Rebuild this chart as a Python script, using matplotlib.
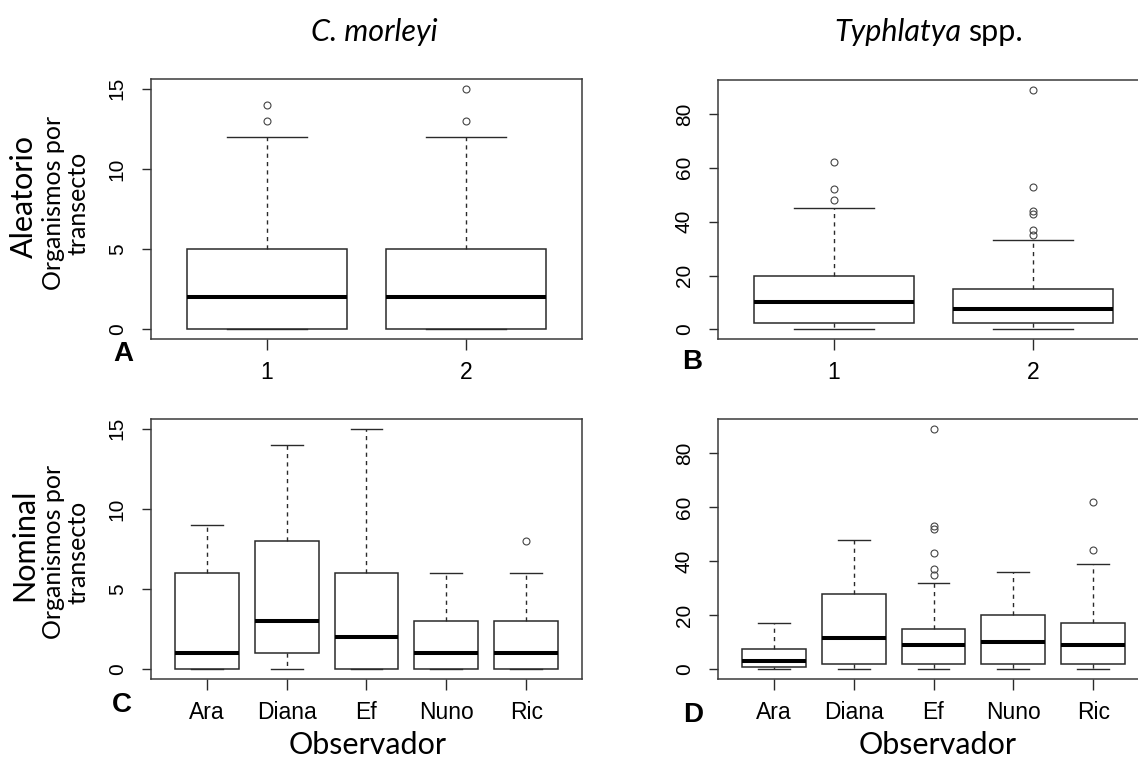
import matplotlib.pyplot as plt

# --- datos ---
muestreos = ['1', '2']
observadores = ['Ara', 'Diana', 'Ef', 'Nuno', 'Ric']

# C. morleyi, muestreo aleatorio
cm_ale_q1 = [0, 0]
cm_ale_med = [2, 2]
cm_ale_q3 = [5, 5]
cm_ale_lo = [0, 0]
cm_ale_hi = [12, 12]
cm_ale_out = [[13, 14], [13, 15]]

# Typhlatya spp., muestreo aleatorio
ty_ale_q1 = [2.25, 2.25]
ty_ale_med = [10, 7.5]
ty_ale_q3 = [20, 15]
ty_ale_lo = [0, 0]
ty_ale_hi = [45, 33]
ty_ale_out = [[48, 52, 62], [35, 37, 43, 44, 53, 89]]

# C. morleyi, nominal por observador
cm_nom_q1 = [0, 1, 0, 0, 0]
cm_nom_med = [1, 3, 2, 1, 1]
cm_nom_q3 = [6, 8, 6, 3, 3]
cm_nom_lo = [0, 0, 0, 0, 0]
cm_nom_hi = [9, 14, 15, 6, 6]
cm_nom_out = [[], [], [], [], [8]]

# Typhlatya spp., nominal por observador
ty_nom_q1 = [0.75, 2, 2, 2, 2]
ty_nom_med = [3, 11.5, 9, 10, 9]
ty_nom_q3 = [7.5, 27.75, 15, 20, 17]
ty_nom_lo = [0, 0, 0, 0, 0]
ty_nom_hi = [17, 48, 32, 36, 39]
ty_nom_out = [[], [], [35, 37, 43, 52, 53, 89], [], [44, 62]]

W, H = 1138, 759
LINE = '#2a2a2a'
FONT_R = ['Liberation Sans', 'DejaVu Sans']
FONT_TXT = ['Lato', 'DejaVu Sans']


def make_stats(q1, med, q3, lo, hi, out):
    return [dict(q1=a, med=b, q3=c, whislo=d, whishi=e, fliers=f)
            for a, b, c, d, e, f in zip(q1, med, q3, lo, hi, out)]


def draw_panel(rect, stats, labels, ymax, yticks):
    ax = fig.add_axes(rect)
    n = len(stats)
    ax.bxp(stats, positions=range(1, n + 1), widths=0.8, capwidths=0.4,
           patch_artist=True,
           boxprops=dict(facecolor='white', edgecolor=LINE, linewidth=1.1),
           medianprops=dict(color='black', linewidth=2.9, solid_capstyle='butt'),
           whiskerprops=dict(color=LINE, linewidth=1.0, linestyle=(0, (3, 3))),
           capprops=dict(color=LINE, linewidth=1.0),
           flierprops=dict(marker='o', markersize=5, markerfacecolor='none',
                           markeredgecolor='#444444', markeredgewidth=0.8))
    # rangos al estilo R (4% de margen)
    x0, x1 = 0.5, n + 0.5
    ax.set_xlim(x0 - 0.04 * (x1 - x0), x1 + 0.04 * (x1 - x0))
    ax.set_ylim(-0.04 * ymax, ymax * 1.04)
    ax.set_xticks(range(1, n + 1))
    ax.set_xticklabels(labels, family=FONT_R, fontsize=16.5)
    ax.set_yticks(yticks)
    ax.set_yticklabels([str(t) for t in yticks], family=FONT_R, fontsize=15,
                       rotation=90, va='center')
    ax.tick_params(axis='x', length=8, width=1, color=LINE, pad=8)
    ax.tick_params(axis='y', length=6.5, width=1, color=LINE, pad=11)
    for s in ax.spines.values():
        s.set_color('#3a3a3a')
        s.set_linewidth(1.1)
    return ax


fig = plt.figure(figsize=(W / 100, H / 100), dpi=100)


def px_rect(left, top, right, bottom):
    return [left / W, 1 - bottom / H, (right - left) / W, (bottom - top) / H]


draw_panel(px_rect(151, 79, 582, 339),
           make_stats(cm_ale_q1, cm_ale_med, cm_ale_q3, cm_ale_lo, cm_ale_hi, cm_ale_out),
           muestreos, 15, [0, 5, 10, 15])
draw_panel(px_rect(718, 80, 1149, 339),
           make_stats(ty_ale_q1, ty_ale_med, ty_ale_q3, ty_ale_lo, ty_ale_hi, ty_ale_out),
           muestreos, 89, [0, 20, 40, 60, 80])
draw_panel(px_rect(151, 419, 582, 679),
           make_stats(cm_nom_q1, cm_nom_med, cm_nom_q3, cm_nom_lo, cm_nom_hi, cm_nom_out),
           observadores, 15, [0, 5, 10, 15])
draw_panel(px_rect(718, 419, 1149, 679),
           make_stats(ty_nom_q1, ty_nom_med, ty_nom_q3, ty_nom_lo, ty_nom_hi, ty_nom_out),
           observadores, 89, [0, 20, 40, 60, 80])


def ftext(x, y, s, **kw):
    fig.text(x / W, 1 - y / H, s, **kw)


# titulos de columna
ftext(374, 32, 'C. morleyi', family=FONT_TXT, style='italic', fontsize=22,
      ha='center', va='center')
ftext(961, 32, 'Typhlatya', family=FONT_TXT, style='italic', fontsize=22,
      ha='right', va='center')
ftext(968, 32, 'spp.', family=FONT_TXT, fontsize=22, ha='left', va='center')

# etiquetas de fila
for yc, lab in [(196, 'Aleatorio'), (545, 'Nominal')]:
    ftext(24, yc, lab, family=FONT_TXT, fontsize=22, rotation=90,
          ha='center', va='center')
    ftext(66, yc + 7, 'Organismos por\ntransecto', family=FONT_TXT, fontsize=18,
          rotation=90, ha='center', va='center', multialignment='center',
          linespacing=1.1)

# eje x
ftext(368, 745, 'Observador', family=FONT_TXT, fontsize=22, ha='center', va='center')
ftext(938, 745, 'Observador', family=FONT_TXT, fontsize=22, ha='center', va='center')

# letras de panel
for x, y, let in [(123, 354, 'A'), (692, 362, 'B'), (122, 705, 'C'), (693, 715, 'D')]:
    ftext(x, y, let, family=FONT_R, weight='bold',
          fontsize=20, ha='center', va='center')

fig.savefig('out.png', dpi=100)
